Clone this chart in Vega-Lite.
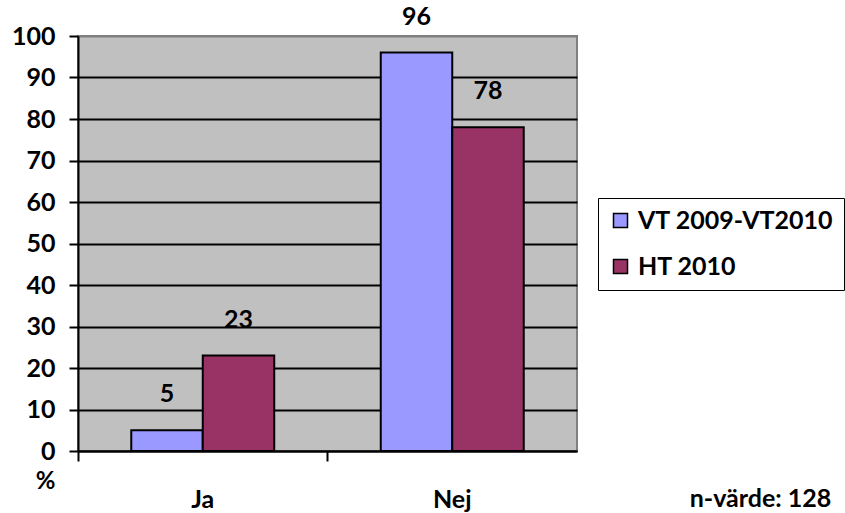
{
  "$schema": "https://vega.github.io/schema/vega-lite/v6.json",
  "autosize": "none",
  "width": 499,
  "height": 415,
  "padding": {"left": 78, "top": 36, "right": 268, "bottom": 62},
  "background": "white",
  "data": {"values": [
    {"svar": "Ja", "period": "VT 2009-VT2010", "value": 5},
    {"svar": "Ja", "period": "HT 2010", "value": 23},
    {"svar": "Nej", "period": "VT 2009-VT2010", "value": 96},
    {"svar": "Nej", "period": "HT 2010", "value": 78}
  ]},
  "config": {
    "font": "Lato",
    "view": {"fill": "#C0C0C0", "stroke": "#808080", "strokeWidth": 2},
    "axis": {"labelFont": "Lato", "labelFontWeight": "bold", "labelFontSize": 25, "labelColor": "black", "titleFont": "Lato", "titleFontWeight": "bold", "titleFontSize": 25, "titleColor": "black"}
  },
  "encoding": {
    "x": {"field": "svar", "type": "nominal", "sort": ["Ja", "Nej"],
      "scale": {"paddingInner": 0, "paddingOuter": 0},
      "axis": {"title": "n-värde: 128", "titleX": 682, "titleY": 47, "titleAlign": "center", "titleBaseline": "middle", "titleAngle": 0,
        "labelAngle": 0, "bandPosition": 0, "tickColor": "black", "tickWidth": 2, "tickSize": 10, "domainColor": "black", "domainWidth": 2, "labelPadding": 26, "grid": false}},
    "xOffset": {"field": "period", "type": "nominal", "sort": ["VT 2009-VT2010", "HT 2010"], "scale": {"paddingInner": 0, "paddingOuter": 0.745}},
    "y": {"field": "value", "type": "quantitative",
      "scale": {"domain": [0, 100], "nice": false},
      "axis": {"title": "%", "titleAngle": 0, "titleX": -33, "titleY": 445, "titleAlign": "center", "titleBaseline": "middle", "titleFontSize": 24,
        "values": [0, 10, 20, 30, 40, 50, 60, 70, 80, 90, 100], "tickColor": "black", "tickWidth": 2, "tickSize": 9, "domainColor": "black", "domainWidth": 2, "labelPadding": 14,
        "grid": true, "gridColor": {"condition": {"test": "datum.value == 100", "value": "#808080"}, "value": "black"}, "gridWidth": 2, "gridOpacity": 1}}
  },
  "layer": [
    {
      "mark": {"type": "bar", "stroke": "black", "strokeWidth": 2},
      "encoding": {
        "color": {"field": "period", "type": "nominal", "sort": ["VT 2009-VT2010", "HT 2010"],
          "scale": {"domain": ["VT 2009-VT2010", "HT 2010"], "range": ["#9999FF", "#993366"]},
          "legend": {"title": null, "orient": "none", "legendX": 520, "legendY": 162, "strokeColor": "black", "padding": 10,
            "symbolType": "square", "symbolSize": 196, "symbolStrokeColor": "black", "symbolStrokeWidth": 1.5, "symbolOpacity": 1,
            "labelFont": "Lato", "labelFontWeight": "bold", "labelFontSize": 25, "labelColor": "black", "rowPadding": 20, "labelOffset": 5, "labelLimit": 400}}
      }
    },
    {
      "mark": {"type": "text", "font": "Lato", "fontWeight": "bold", "fontSize": 25, "color": "black", "baseline": "middle", "dy": -36},
      "encoding": {"text": {"field": "value", "type": "quantitative"}}
    }
  ]
}
